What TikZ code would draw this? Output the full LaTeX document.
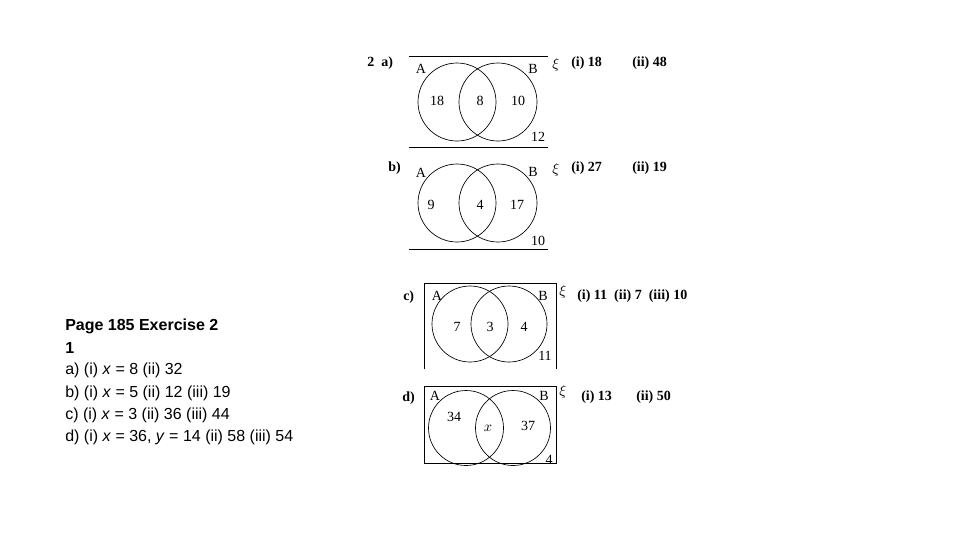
\documentclass[tikz,border=0pt]{standalone}
\usepackage{fontspec}
\setmainfont{Liberation Serif}
\newfontfamily\arial{Liberation Sans}
\begin{document}
\begin{tikzpicture}[x=0.75pt,y=-0.75pt,
  ln/.style={line width=0.6pt},
  cir/.style={draw,line width=0.5pt,circle,minimum size=78*0.75pt,inner sep=0},
  t/.style={font=\fontsize{10.5}{12}\selectfont,inner sep=0},
  tb/.style={font=\fontsize{10.5}{12}\selectfont\bfseries,inner sep=0,anchor=west},
  lt/.style={font=\arial\fontsize{12}{14}\selectfont,anchor=west,inner sep=0}]
\useasboundingbox (0,0) rectangle (960,540);
% a
\coordinate (a1) at (409,56); \coordinate (a2) at (548,56);
\coordinate (a3) at (409,147); \coordinate (a4) at (548,147);
\draw[ln] (a1)--(a2) (a3)--(a4);
\node[cir] (aA) at (457,102) {}; \node[cir] (aB) at (498,102) {};
\node[tb] (al) at (367,63) {2\ \ a)};
\node[t] (aa) at (421,69) {A}; \node[t] (ab) at (533,69) {B};
\node[t] (a18) at (437,101) {18}; \node[t] (a8) at (480,101) {8};
\node[t] (a10) at (518,101) {10}; \node[t] (a12) at (538,137) {12};
\node[t] (ax) at (556,65) {$\xi$};
\node[tb] (ai) at (571,63) {(i) 18}; \node[tb] (aii) at (632,63) {(ii) 48};
% b
\coordinate (b3) at (409,249); \coordinate (b4) at (548,249);
\draw[ln] (b3)--(b4);
\node[cir] (bA) at (457,203) {}; \node[cir] (bB) at (498,203) {};
\node[tb] (bl) at (388,168) {b)};
\node[t] (ba) at (421,173) {A}; \node[t] (bb) at (533,172) {B};
\node[t] (b9) at (431,205) {9}; \node[t] (b4n) at (480,205) {4};
\node[t] (b17) at (517,205) {17}; \node[t] (b10) at (538,241) {10};
\node[t] (bx) at (556,170) {$\xi$};
\node[tb] (bi) at (571,168) {(i) 27}; \node[tb] (bii) at (632,168) {(ii) 19};
% c
\coordinate (c1) at (424,369); \coordinate (c2) at (424,283);
\coordinate (c3) at (556,283); \coordinate (c4) at (556,369);
\draw[ln] (c1)--(c2)--(c3)--(c4);
\node[cir,minimum size=76*0.75pt] (cA) at (470,324) {}; \node[cir,minimum size=76*0.75pt] (cB) at (509,324) {};
\node[tb] (cl) at (403,297) {c)};
\node[t] (ca) at (437,296) {A}; \node[t] (cb) at (543,296) {B};
\node[t] (c7) at (457,327) {7}; \node[t] (c3n) at (490,327) {3};
\node[t] (c4n) at (524,327) {4}; \node[t] (c11) at (545,356) {11};
\node[t] (cx) at (563,292) {$\xi$};
\node[tb] (ci) at (577,296) {(i) 11\ \ (ii) 7\ \ (iii) 10};
% d
\node[draw,ln,minimum width=132*0.75pt,minimum height=77*0.75pt,inner sep=0] (dbox) at (490,424.5) {};
\node[cir,minimum size=75*0.75pt] (dA) at (466,428) {}; \node[cir,minimum size=75*0.75pt] (dB) at (513,428) {};
\node[tb] (dl) at (402,398) {d)};
\node[t] (da) at (435,396) {A}; \node[t] (db) at (544,396) {B};
\node[t] (d34) at (454,417) {34}; \node[t] (dxx) at (488,428) {$x$};
\node[t] (d37) at (528,426) {37}; \node[t] (d4) at (549,460) {4};
\node[t] (dx) at (563,392) {$\xi$};
\node[tb] (di) at (581,397) {(i) 13}; \node[tb] (dii) at (636,397) {(ii) 50};
% left text
\node[lt,font=\arial\fontsize{12}{14}\selectfont\bfseries] (l1) at (65,326) {Page 185 Exercise 2};
\node[lt,font=\arial\fontsize{12}{14}\selectfont\bfseries] (l2) at (65,348) {1};
\node[lt] (l3) at (65,370) {a) (i) \textit{x} = 8 (ii) 32};
\node[lt] (l4) at (65,393) {b) (i) \textit{x} = 5 (ii) 12 (iii) 19};
\node[lt] (l5) at (65,415) {c) (i) \textit{x} = 3 (ii) 36 (iii) 44};
\node[lt] (l6) at (65,437) {d) (i) \textit{x} = 36, \textit{y} = 14 (ii) 58 (iii) 54};
\end{tikzpicture}
\end{document}
